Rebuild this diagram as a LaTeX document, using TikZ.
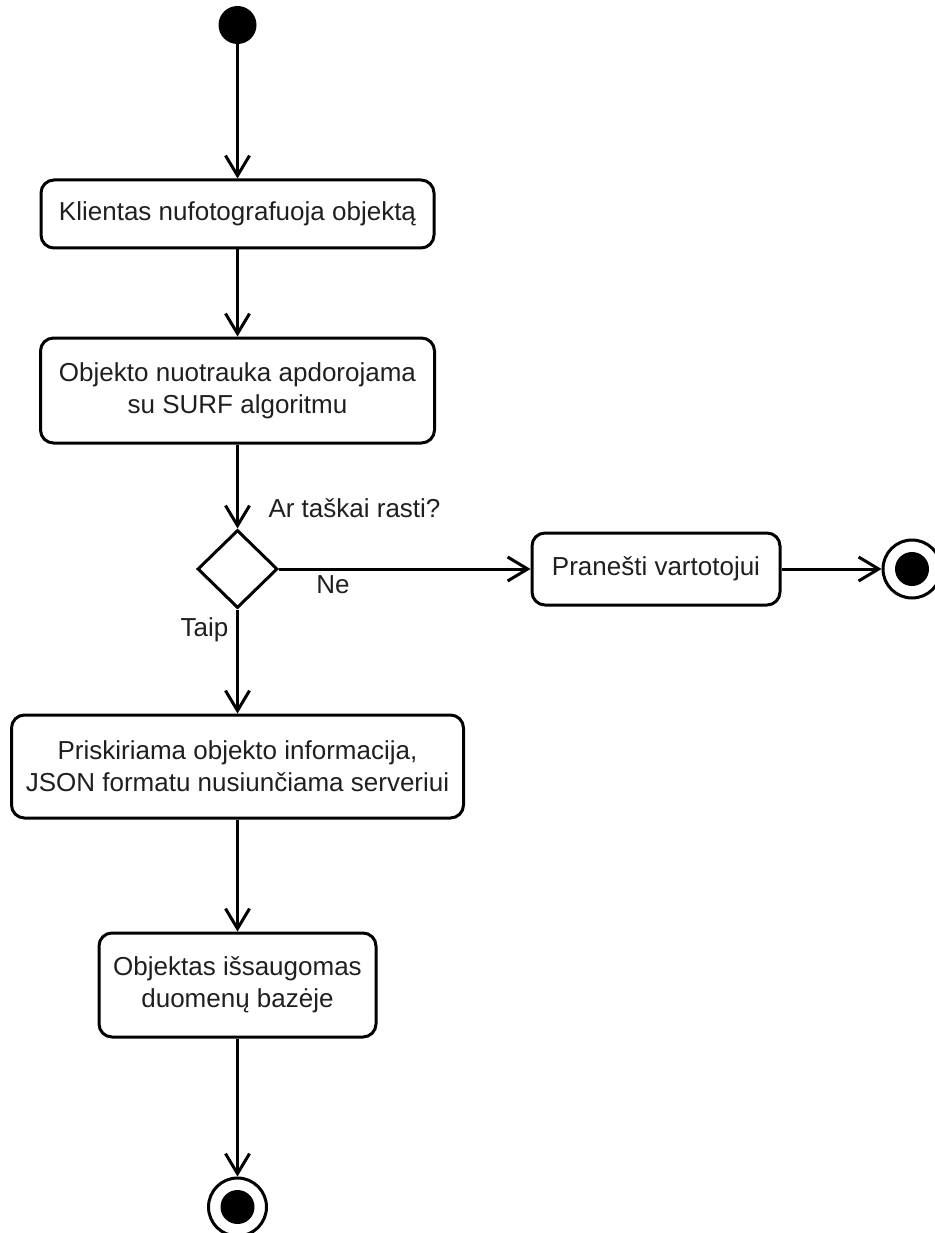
\documentclass[tikz,border=0pt]{standalone}
\usepackage{fontspec}
\setmainfont{Liberation Sans}
\usetikzlibrary{arrows.meta,shapes.geometric}

\begin{document}
\begin{tikzpicture}[x=1pt,y=-1pt,
  flow/.style={line width=3pt,-{Straight Barb[length=20pt,width=24pt]}},
  action/.style={draw, line width=3pt, rounded corners=13pt, inner sep=0pt,
    align=center, font=\fontsize{26}{32}\selectfont, text=black!88},
  guard/.style={inner sep=0pt, font=\fontsize{26}{32}\selectfont, text=black!88},
  decision/.style={diamond, draw, line width=3pt, inner sep=0pt,
    minimum width=80pt, minimum height=78pt},
  initial/.style={circle, fill=black, inner sep=0pt, minimum size=38pt},
  final/.style={circle, draw, line width=3pt, inner sep=0pt, minimum size=58pt,
    path picture={\fill[black] (path picture bounding box.center) circle (17pt);}}
]
\useasboundingbox (0,0) rectangle (934,1233);

% states
\node[initial] (start) at (237.5,25) {};
\node[action, minimum width=393pt, minimum height=68pt] (klientas) at (237.5,214)
  {Klientas nufotografuoja objektą};
\node[action, minimum width=394pt, minimum height=105pt] (nuotrauka) at (237.5,390.5)
  {Objekto nuotrauka apdorojama\\su SURF algoritmu};
\node[decision] (taskai) at (237.5,569) {};
\node[action, minimum width=248pt, minimum height=72pt] (pranesti) at (656,569)
  {Pranešti vartotojui};
\node[final] (pabaigaA) at (912,569) {};
\node[action, minimum width=452pt, minimum height=103pt] (priskiriama) at (237.5,766.5)
  {Priskiriama objekto informacija,\\JSON formatu nusiunčiama serveriui};
\node[action, minimum width=277pt, minimum height=104pt] (saugoma) at (237.5,985)
  {Objektas išsaugomas\\duomenų bazėje};
\node[final] (pabaigaB) at (237.5,1207) {};

% guards
\node[guard] (klausimas) at (354.5,508) {Ar taškai rasti?};
\node[guard] (ne) at (333,585) {Ne};
\node[guard] (taip) at (204.5,630) {Taip};

% transitions
\draw[flow] (start) -- (klientas);
\draw[flow] (klientas) -- (nuotrauka);
\draw[flow] (nuotrauka) -- (taskai);
\draw[flow] (taskai.east) -- (pranesti.west);
\draw[flow] (pranesti.east) -- (pabaigaA.west);
\draw[flow] (taskai.south) -- (priskiriama.north);
\draw[flow] (priskiriama) -- (saugoma);
\draw[flow] (saugoma) -- (pabaigaB);
\end{tikzpicture}
\end{document}
